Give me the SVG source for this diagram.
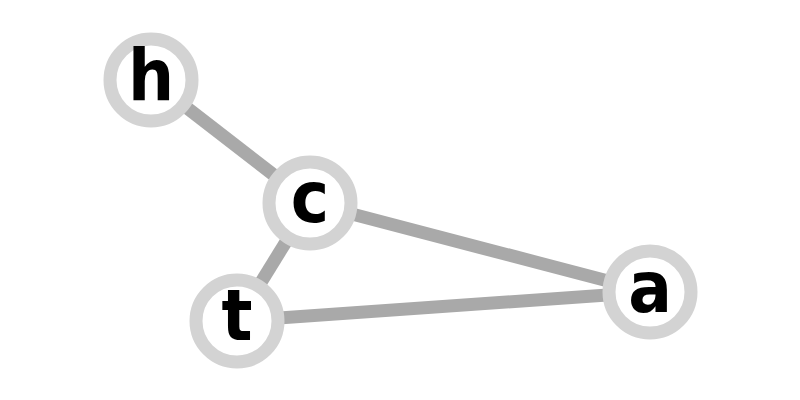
<svg xmlns="http://www.w3.org/2000/svg" width="800" height="400" viewBox="0 0 800 400">
<style>
.edge{stroke:#a9a9a9;stroke-width:13;fill:none}
.node circle{fill:#ffffff;stroke:#d3d3d3;stroke-width:13}
.node text{font-family:"DejaVu Sans","Liberation Sans",sans-serif;font-weight:bold;font-stretch:condensed;font-size:72px;fill:#000000;text-anchor:middle}
</style>
<rect width="800" height="400" fill="#ffffff"/>
<g id="edges">
<line class="edge" x1="151" y1="80" x2="310" y2="203"/>
<line class="edge" x1="310" y1="203" x2="237" y2="321"/>
<line class="edge" x1="310" y1="203" x2="650" y2="292"/>
<line class="edge" x1="237" y1="321" x2="650" y2="292"/>
</g>
<g id="node-h" class="node"><circle cx="151" cy="80" r="41"/><text x="151" y="100">h</text></g>
<g id="node-c" class="node"><circle cx="310" cy="203" r="41"/><text x="310" y="222">c</text></g>
<g id="node-t" class="node"><circle cx="237" cy="321" r="41"/><text x="237" y="340">t</text></g>
<g id="node-a" class="node"><circle cx="650" cy="292" r="41"/><text x="650" y="312">a</text></g>
</svg>
